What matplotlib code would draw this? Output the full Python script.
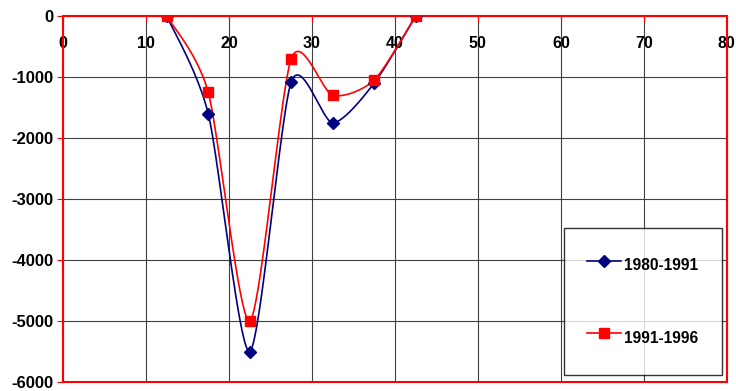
import numpy as np
import matplotlib.pyplot as plt

# values
x_vals = [12.5, 17.5, 22.5, 27.5, 32.5, 37.5, 42.5]
y_1980_1991 = [0, -1600, -5500, -1080, -1750, -1100, 0]
y_1991_1996 = [0, -1250, -5000, -700, -1300, -1050, 0]
series_labels = ["1980-1991", "1991-1996"]
x_ticks = [0, 10, 20, 30, 40, 50, 60, 70, 80]
y_ticks = [0, -1000, -2000, -3000, -4000, -5000, -6000]


def smooth(x, y, n=40, tension=0.75):
    # cardinal spline through the points, close to Excel's smoothed line
    x = np.asarray(x, float)
    y = np.asarray(y, float)
    px = np.concatenate([[x[0]], x, [x[-1]]])
    py = np.concatenate([[y[0]], y, [y[-1]]])
    t = np.linspace(0, 1, n)
    h00 = 2 * t ** 3 - 3 * t ** 2 + 1
    h10 = t ** 3 - 2 * t ** 2 + t
    h01 = -2 * t ** 3 + 3 * t ** 2
    h11 = t ** 3 - t ** 2
    out_x, out_y = [], []
    for i in range(1, len(px) - 2):
        for arr, out in ((px, out_x), (py, out_y)):
            p0, p1, p2, p3 = arr[i - 1], arr[i], arr[i + 1], arr[i + 2]
            m1 = tension * (p2 - p0) / 2
            m2 = tension * (p3 - p1) / 2
            out.extend(h00 * p1 + h10 * m1 + h01 * p2 + h11 * m2)
    return np.array(out_x), np.array(out_y)


plt.rcParams['font.family'] = ['Liberation Sans', 'DejaVu Sans']
plt.rcParams['font.weight'] = 'bold'

fig = plt.figure(figsize=(7.36, 3.91), dpi=100)
ax = fig.add_axes([0.0856, 0.023, 0.902, 0.936])

styles = [("#000080", "D", 6.5), ("#FF0000", "s", 7)]
for yv, label, (col, mk, ms) in zip([y_1980_1991, y_1991_1996], series_labels, styles):
    sx, sy = smooth(x_vals, yv)
    ax.plot(sx, sy, color=col, lw=1.2, zorder=3)
    ax.plot(x_vals, yv, ls="none", marker=mk, ms=ms, color=col, zorder=4)
    # legend proxy
    ax.plot([], [], color=col, lw=1.2, marker=mk, ms=ms, label=label)

ax.set_xlim(0, 80)
ax.set_ylim(-6000, 0)
ax.set_xticks(x_ticks)
ax.set_yticks(y_ticks)
ax.set_yticklabels([str(v) for v in y_ticks])

ax.grid(True, color="#404040", lw=0.8)
ax.set_axisbelow(True)

for side in ["left", "right", "top", "bottom"]:
    ax.spines[side].set_color("red")
    ax.spines[side].set_linewidth(1.5)

ax.tick_params(axis="x", top=True, labeltop=True, bottom=False, labelbottom=False,
               direction="in", length=4, color="red", pad=-25, labelsize=11.5)
ax.tick_params(axis="y", direction="out", length=4, color="red", labelsize=12, pad=3)

leg = ax.legend(loc="lower right", bbox_to_anchor=(0.9925, 0.02), fontsize=11.2,
                frameon=True, fancybox=False, edgecolor="black",
                borderpad=1.5, handlelength=2.2, handleheight=2.3,
                labelspacing=2.95, handletextpad=0.2, borderaxespad=0)
leg.get_frame().set_linewidth(1.0)

fig.savefig("out.png", dpi=100)
